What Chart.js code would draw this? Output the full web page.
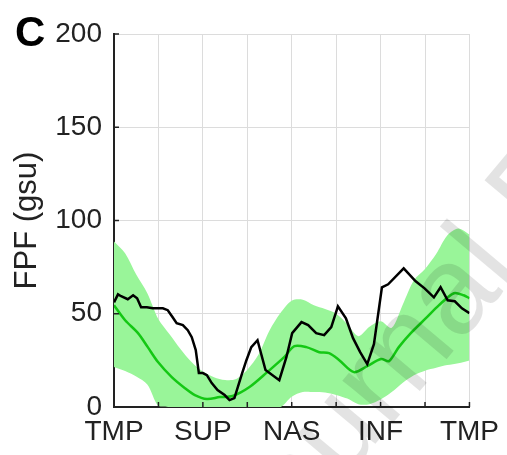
<!DOCTYPE html>
<html>
<head>
<meta charset="utf-8">
<script src="https://cdn.jsdelivr.net/npm/chart.js@4.4.1/dist/chart.umd.min.js"></script>
<style>
  body { margin: 0; background: #fff; }
  canvas { display: block; }
</style>
</head>
<body>
<canvas id="myChart" width="507" height="455"></canvas>
<script>
// tick labels along the x axis (at 0, 2, 4, 6, 8)
const xLabels = ['TMP', 'SUP', 'NAS', 'INF', 'TMP'];
const yTicks = [0, 50, 100, 150, 200];

// single trace (black)
const blackX = [0, 0.09, 0.16, 0.31, 0.43, 0.52, 0.61, 0.74, 0.87, 1.10, 1.21, 1.32, 1.41, 1.55, 1.66, 1.75,
    1.84, 1.91, 2.00, 2.09, 2.20, 2.33, 2.49, 2.60, 2.71, 2.87, 2.98, 3.09, 3.23, 3.41, 3.72, 3.88, 4.01,
    4.22, 4.37, 4.55, 4.73, 4.89, 5.04, 5.22, 5.38, 5.54, 5.70, 5.85, 6.03, 6.17, 6.52, 6.79, 6.99, 7.20,
    7.35, 7.51, 7.67, 7.83, 8.00];
const blackY = [56.1, 60.4, 59.4, 57.8, 59.9, 58.3, 53.5, 53.5, 52.9, 52.9, 51.9, 48.1, 44.9, 43.9, 41.2, 37.4,
    30.5, 18.2, 18.2, 17.1, 12.8, 9.1, 6.4, 3.7, 4.8, 17.1, 25.1, 32.1, 35.8, 19.8, 14.4, 26.7, 39.6,
    45.5, 43.9, 39.6, 38.5, 42.8, 54.0, 47.6, 36.9, 29.4, 23.0, 33.7, 64.2, 65.8, 74.3, 67.4, 63.6, 58.8,
    64.2, 57.2, 56.7, 52.9, 50.3];

// mean (green line)
const meanX = [0, 0.25, 0.54, 0.76, 0.99, 1.30, 1.59, 1.82, 2.09, 2.38, 2.67, 3.05, 3.45, 3.83, 4.06, 4.33,
    4.62, 4.84, 5.07, 5.40, 5.70, 6.01, 6.19, 6.41, 6.68, 7.02, 7.31, 7.65, 7.87, 8.00];
const meanY = [54.5, 46.5, 39.6, 32.1, 24.1, 16.0, 10.2, 6.4, 4.3, 5.3, 5.9, 10.7, 18.7, 26.7, 32.6, 32.1,
    29.4, 28.9, 25.1, 18.7, 21.9, 25.7, 24.6, 32.1, 39.6, 47.6, 54.5, 61.0, 59.9, 58.3];

// spread (light green band)
const bandX = [0, 0.25, 0.5, 0.75, 1, 1.25, 1.5, 1.75, 2, 2.25, 2.5, 2.75, 3, 3.25, 3.5, 3.75, 4,
    4.25, 4.5, 4.75, 5, 5.25, 5.5, 5.75, 6, 6.25, 6.5, 6.75, 7, 7.25, 7.5, 7.75, 8];
const bandHi = [88.8, 82.5, 71, 61, 47, 39, 31, 24, 19, 16, 14.5, 15, 20, 28, 41, 50.5, 57,
    57.5, 54.5, 52.5, 50, 44.5, 38, 43, 46, 42.5, 55, 68, 74, 82, 92, 95.7, 92.5];
const bandLo = [21.4, 19.3, 16.3, 12, 0.5, 0, 0, 0, 0, 0, 0, 0, 0, 0, 0, 0, 5.5,
    8, 8, 7.8, 6.5, 4.5, 1.5, 1.5, 4, 8, 13, 17, 19.5, 21, 22.5, 23.5, 25];

function pts(xs, ys) {
    return xs.map((x, i) => ({x: x, y: ys[i]}));
}

const FONT = '"Liberation Sans", Arial, Helvetica, sans-serif';

// panel letter, inward tick marks and the faint watermark
const extras = {
    id: 'extras',
    afterDraw(chart) {
        const c = chart.ctx;
        const xs = chart.scales.x, ys = chart.scales.y;
        c.save();
        c.strokeStyle = '#222';
        c.lineWidth = 1.5;
        for (let v = 1; v <= 8; v++) {
            const px = xs.getPixelForValue(v);
            c.beginPath();
            c.moveTo(px, ys.bottom);
            c.lineTo(px, ys.bottom - 5);
            c.stroke();
        }
        yTicks.slice(1).forEach(v => {
            const py = ys.getPixelForValue(v);
            c.beginPath();
            c.moveTo(xs.left, py);
            c.lineTo(xs.left + 5, py);
            c.stroke();
        });

        c.fillStyle = '#000';
        c.font = 'bold 42px ' + FONT;
        c.textAlign = 'left';
        c.textBaseline = 'alphabetic';
        c.fillText('C', 15, 46);

        c.translate(258, 584);
        c.rotate(-50 * Math.PI / 180);
        c.fillStyle = 'rgba(0,0,0,0.11)';
        c.font = '125px ' + FONT;
        c.fillText('Journal Pre-proof', 0, 0);
        c.restore();
    }
};

const ctx = document.getElementById('myChart').getContext('2d');
const myChart = new Chart(ctx, {
    type: 'line',
    data: {
        datasets: [
            {
                label: 'trace',
                data: pts(blackX, blackY),
                borderColor: '#000',
                borderWidth: 2.5,
                pointRadius: 0,
                tension: 0,
                fill: false
            },
            {
                label: 'mean',
                data: pts(meanX, meanY),
                borderColor: '#14c814',
                borderWidth: 2.5,
                pointRadius: 0,
                tension: 0.3,
                fill: false
            },
            {
                label: 'upper',
                data: pts(bandX, bandHi),
                borderWidth: 0,
                borderColor: 'rgba(0,0,0,0)',
                backgroundColor: '#99f599',
                pointRadius: 0,
                tension: 0.3,
                fill: '+1'
            },
            {
                label: 'lower',
                data: pts(bandX, bandLo),
                borderWidth: 0,
                borderColor: 'rgba(0,0,0,0)',
                pointRadius: 0,
                tension: 0.3,
                fill: false
            }
        ]
    },
    options: {
        responsive: false,
        animation: false,
        layout: {
            padding: {left: 0, top: 34, right: 36, bottom: 0}
        },
        plugins: {
            legend: {display: false},
            tooltip: {enabled: false}
        },
        scales: {
            x: {
                type: 'linear',
                min: 0,
                max: 8,
                afterFit(scale) { scale.height = 48; },
                grid: {color: '#dcdcdc', lineWidth: 1, drawTicks: false},
                border: {display: true, color: '#222', width: 2},
                ticks: {
                    stepSize: 1,
                    autoSkip: false,
                    maxRotation: 0,
                    padding: 8,
                    color: '#222',
                    font: {family: FONT, size: 28},
                    callback: v => (v % 2 === 0 ? xLabels[v / 2] : '')
                }
            },
            y: {
                type: 'linear',
                min: 0,
                max: 200,
                afterFit(scale) { scale.width = 114; },
                grid: {color: '#dcdcdc', lineWidth: 1, drawTicks: false},
                border: {display: true, color: '#222', width: 2},
                ticks: {
                    stepSize: 50,
                    padding: 12,
                    color: '#222',
                    font: {family: FONT, size: 28}
                },
                title: {
                    display: true,
                    text: 'FPF (gsu)',
                    color: '#222',
                    padding: {top: 9, bottom: 0},
                    font: {family: FONT, size: 31}
                }
            }
        }
    },
    plugins: [extras]
});
</script>
</body>
</html>
